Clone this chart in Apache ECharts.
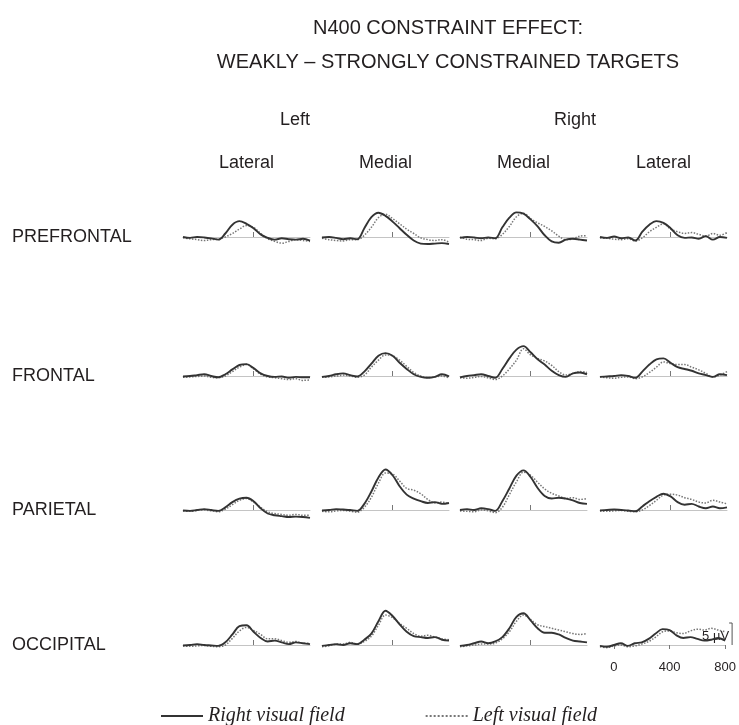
<!DOCTYPE html>
<html>
<head>
<meta charset="utf-8">
<title>N400 constraint effect</title>
<script src="https://cdn.jsdelivr.net/npm/echarts@6/dist/echarts.min.js"></script>
<style>
  html, body { margin: 0; padding: 0; background: #fff; }
  #chart { width: 739px; height: 725px; }
</style>
</head>
<body>
<div id="chart"></div>
<script>
'use strict';

// time axis (ms) shared by every panel
var times = [-100, -50, 0, 50, 100, 150, 200, 250, 300, 350, 400, 450, 500, 550, 600, 650, 700, 750, 800];

var regions = ['PREFRONTAL', 'FRONTAL', 'PARIETAL', 'OCCIPITAL'];
var sites = ['Lateral', 'Medial', 'Medial', 'Lateral'];
var hemispheres = ['Left', 'Right'];
var seriesNames = ['Right visual field', 'Left visual field'];
var timeTicks = [0, 400, 800];
var markTick = [400];
var scaleBarTime = 850;
var scaleBarUV = 5;

// difference waves in microvolts (negative plotted up), one pair per panel
// prefrontal
var preLL_right = [0.0, 0.2, 0.0, 0.1, 0.3, 0.6, -0.8, -2.8, -3.6, -3.0, -2.0, -0.6, 0.2, 0.6, 0.3, 0.5, 0.6, 0.4, 0.8];
var preLL_left  = [0.2, 0.4, 0.6, 0.8, 0.6, 0.5, 0.0, -0.8, -1.8, -2.6, -2.2, -0.8, 0.4, 1.0, 1.4, 1.0, 0.6, 0.8, 1.0];
var preLM_right = [0.1, 0.0, 0.2, 0.5, 0.3, 0.5, -2.0, -4.5, -5.5, -4.8, -3.5, -2.0, -0.5, 0.8, 1.5, 1.6, 1.5, 1.4, 1.6];
var preLM_left  = [0.3, 0.6, 0.8, 0.9, 0.6, 0.6, -0.4, -2.2, -4.4, -5.2, -4.2, -3.0, -1.8, -0.8, 0.2, 0.6, 0.8, 0.6, 1.2];
var preRM_right = [0.2, 0.0, 0.1, 0.3, 0.1, 0.3, -2.2, -4.4, -5.6, -5.3, -4.0, -2.4, -0.4, 1.0, 1.3, 0.6, 0.4, 0.6, 0.8];
var preRM_left  = [0.0, 0.5, 0.6, 0.8, 0.3, 0.4, -0.6, -2.4, -4.6, -5.4, -4.2, -3.2, -2.4, -1.4, -0.2, 0.6, 0.4, -0.2, -0.3];
var preRL_right = [0.0, 0.2, -0.1, 0.3, 0.1, 0.8, -1.2, -2.8, -3.6, -3.2, -2.0, -0.4, 0.2, 0.1, 0.4, -0.2, 0.6, 0.0, 0.2];
var preRL_left  = [0.2, 0.3, 0.5, 0.6, 0.4, 0.9, 0.2, -1.2, -2.2, -3.0, -1.8, -1.2, -0.8, -1.0, -0.6, -0.2, -0.8, -0.4, -1.0];
// frontal
var froLL_right = [0.1, 0.0, -0.2, -0.4, 0.0, 0.3, -0.4, -1.5, -2.5, -2.7, -1.8, -0.6, 0.0, 0.2, 0.1, 0.4, 0.2, 0.3, 0.3];
var froLL_left  = [0.3, 0.2, 0.1, 0.0, 0.3, 0.4, 0.0, -1.0, -2.0, -2.6, -1.6, -0.4, 0.2, 0.4, 0.6, 0.8, 0.6, 1.0, 0.9];
var froLM_right = [0.2, 0.0, -0.4, -0.6, -0.2, 0.1, -1.0, -2.8, -4.6, -5.2, -4.6, -3.0, -1.6, -0.4, 0.2, 0.4, 0.2, -0.4, 0.1];
var froLM_left  = [0.3, 0.2, 0.0, -0.2, 0.0, 0.3, -0.2, -2.0, -3.6, -4.8, -4.6, -3.6, -2.2, -0.8, 0.0, 0.4, 0.2, 0.0, 0.4];
var froRM_right = [0.3, 0.0, -0.2, -0.4, 0.0, 0.4, -1.6, -4.0, -6.0, -6.8, -5.4, -3.8, -2.6, -1.2, -0.2, 0.2, -0.6, -0.8, -0.4];
var froRM_left  = [0.4, 0.5, 0.3, 0.1, 0.4, 0.8, 0.0, -1.6, -3.6, -6.2, -4.8, -4.0, -3.4, -2.4, -1.0, -0.2, -0.6, -1.0, -0.8];
var froRL_right = [0.2, 0.1, 0.0, -0.2, 0.0, 0.4, -1.0, -2.6, -3.8, -4.0, -3.0, -2.0, -1.6, -1.2, -0.6, -0.2, 0.2, -0.4, -0.2];
var froRL_left  = [0.2, 0.4, 0.5, 0.3, 0.2, 0.6, 0.2, -0.8, -2.0, -3.2, -2.8, -2.6, -2.6, -2.0, -1.4, -0.6, 0.2, -0.2, -1.0];
// parietal
var parLL_right = [0.1, 0.2, 0.0, -0.2, 0.0, 0.2, -0.6, -1.8, -2.6, -2.8, -2.0, -0.4, 0.8, 1.2, 1.4, 1.6, 1.5, 1.6, 1.8];
var parLL_left  = [0.2, 0.3, 0.1, 0.0, 0.2, 0.4, -0.2, -1.2, -2.2, -2.6, -1.8, -0.6, 0.4, 0.8, 1.0, 1.2, 1.0, 1.2, 1.2];
var parLM_right = [0.1, 0.0, -0.2, -0.1, 0.0, 0.2, -1.4, -4.2, -7.4, -9.2, -7.9, -5.4, -3.5, -2.6, -2.0, -1.6, -1.8, -1.4, -1.6];
var parLM_left  = [0.3, 0.4, 0.2, 0.1, 0.3, 0.5, -0.6, -2.9, -6.1, -8.4, -8.2, -6.6, -4.9, -4.5, -3.7, -2.4, -1.6, -1.8, -1.4];
var parRM_right = [0.0, -0.2, 0.0, -0.4, -0.2, 0.2, -2.0, -4.9, -7.8, -9.0, -7.5, -5.0, -3.2, -2.6, -2.8, -2.6, -2.2, -1.6, -1.4];
var parRM_left  = [0.2, 0.3, 0.4, 0.0, 0.2, 0.6, -0.6, -3.5, -6.4, -8.6, -7.9, -6.3, -4.8, -3.8, -3.2, -2.6, -2.8, -2.4, -2.6];
var parRL_right = [0.1, 0.0, -0.1, 0.0, 0.1, 0.3, -0.8, -2.0, -3.0, -3.7, -3.1, -1.8, -1.2, -1.4, -0.8, -0.4, -0.8, -0.4, -0.6];
var parRL_left  = [0.2, 0.3, 0.2, 0.1, 0.3, 0.4, 0.0, -1.0, -2.2, -3.4, -3.6, -3.4, -2.8, -2.4, -1.8, -1.6, -2.2, -1.8, -1.4];
// occipital
var occLL_right = [0.1, 0.0, -0.2, 0.0, 0.1, 0.2, -0.6, -2.4, -4.3, -4.5, -3.0, -1.6, -0.8, -1.0, -0.6, -0.2, -0.6, -0.4, -0.2];
var occLL_left  = [0.2, 0.3, 0.2, 0.1, 0.3, 0.4, 0.0, -1.5, -3.2, -4.0, -3.3, -2.4, -1.4, -1.4, -1.0, -0.6, -0.8, -0.4, -0.4];
var occLM_right = [0.2, 0.0, -0.2, 0.0, -0.4, -0.2, -1.2, -2.6, -5.4, -7.8, -6.6, -4.7, -3.0, -2.0, -1.8, -1.6, -1.8, -1.2, -1.0];
var occLM_left  = [0.4, 0.2, -0.2, -0.2, -0.6, -0.2, -0.8, -2.0, -4.5, -6.8, -6.2, -4.9, -3.8, -2.6, -2.0, -2.2, -1.8, -1.4, -1.2];
var occRM_right = [0.2, 0.0, -0.4, -0.8, -0.4, -0.8, -1.8, -3.8, -6.4, -7.2, -5.6, -3.8, -2.8, -2.8, -2.4, -1.6, -1.0, -0.8, -0.6];
var occRM_left  = [0.4, 0.2, 0.0, -0.2, -0.2, -0.4, -1.4, -3.0, -5.4, -6.8, -5.8, -4.6, -4.2, -3.8, -3.4, -3.0, -2.6, -2.4, -2.6];
var occRL_right = [0.2, 0.4, 0.0, -0.4, 0.2, -0.4, -0.6, -1.4, -2.6, -3.6, -3.4, -2.2, -1.6, -1.8, -1.4, -1.0, -1.2, -1.6, -1.0];
var occRL_left  = [0.4, 0.6, 0.2, 0.0, 0.4, 0.2, -0.2, -0.8, -1.8, -3.0, -3.2, -2.8, -2.6, -3.2, -3.6, -3.4, -3.8, -3.4, -3.0];

// panels in reading order: [right visual field, left visual field]
var panels = [
    [preLL_right, preLL_left], [preLM_right, preLM_left], [preRM_right, preRM_left], [preRL_right, preRL_left],
    [froLL_right, froLL_left], [froLM_right, froLM_left], [froRM_right, froRM_left], [froRL_right, froRL_left],
    [parLL_right, parLL_left], [parLM_right, parLM_left], [parRM_right, parRM_left], [parRL_right, parRL_left],
    [occLL_right, occLL_left], [occLM_right, occLM_left], [occRM_right, occRM_left], [occRL_right, occRL_left]
];

// layout
var colLeft = [183, 322, 460, 600];
var panelWidth = 127;
var rowBase = [237, 376, 510, 645];
var pxPerUV = 4.4;
var yTop = -12, yBottom = 3;

var font = 'Liberation Sans, Arial, sans-serif';
var ink = '#231f20';

function pairs(values) {
    return values.map(function (v, i) { return [times[i], v]; });
}

function text(str, x, y, size, align) {
    return {
        type: 'text', x: x, y: y, silent: true,
        style: { text: str, fontSize: size, fontFamily: font, fill: ink, align: align || 'center', verticalAlign: 'middle' }
    };
}

var graphics = [
    text('N400 CONSTRAINT EFFECT:', 448, 28, 20),
    text('WEAKLY \u2013 STRONGLY CONSTRAINED TARGETS', 448, 62, 20),
    text(hemispheres[0], 295, 120, 18),
    text(hemispheres[1], 575, 120, 18)
];
sites.forEach(function (s, c) {
    graphics.push(text(s, colLeft[c] + panelWidth / 2, 163, 18));
});
regions.forEach(function (r, i) {
    graphics.push(text(r, 12, rowBase[i], 18, 'left'));
});

var grids = [], xAxes = [], yAxes = [], series = [];

panels.forEach(function (panel, idx) {
    var r = Math.floor(idx / 4), c = idx % 4;
    var last = idx === panels.length - 1;

    grids.push({
        left: colLeft[c],
        width: panelWidth,
        top: rowBase[r] + yTop * pxPerUV,
        height: (yBottom - yTop) * pxPerUV
    });

    xAxes.push({
        type: 'value', gridIndex: idx, min: -100, max: 800,
        axisLine: { show: true, onZero: true, lineStyle: { color: '#c4c4c4', width: 1 } },
        splitLine: { show: false },
        axisTick: {
            show: true,
            customValues: last ? timeTicks : markTick,
            inside: !last,
            length: last ? 4 : 5,
            lineStyle: { color: '#777', width: 1 }
        },
        axisLabel: {
            show: last, customValues: timeTicks, margin: 3,
            fontSize: 13, fontFamily: font, color: ink
        }
    });

    yAxes.push({ type: 'value', gridIndex: idx, inverse: true, min: yTop, max: yBottom, show: false });

    series.push({
        name: seriesNames[0], type: 'line', xAxisIndex: idx, yAxisIndex: idx,
        data: pairs(panel[0]), smooth: 0.35, symbol: 'none', z: 3,
        lineStyle: { color: '#333', width: 1.9, type: 'solid' },
        itemStyle: { color: '#333' }
    });
    series.push({
        name: seriesNames[1], type: 'line', xAxisIndex: idx, yAxisIndex: idx,
        data: pairs(panel[1]), smooth: 0.35, symbol: 'none', z: 2,
        lineStyle: { color: '#777', width: 1.5, type: 'dotted' },
        itemStyle: { color: '#777' }
    });
});

var chart = echarts.init(document.getElementById('chart'), null, { renderer: 'canvas' });

chart.setOption({
    animation: false,
    backgroundColor: '#fff',
    graphic: graphics,
    legend: {
        data: seriesNames,
        left: 155, top: 701,
        itemWidth: 42, itemHeight: 10, itemGap: 80,
        itemStyle: { opacity: 0 },
        textStyle: { fontFamily: 'Liberation Serif, serif', fontStyle: 'italic', fontSize: 20, color: ink }
    },
    grid: grids,
    xAxis: xAxes,
    yAxis: yAxes,
    series: series
});

// 5 uV scale bar beside the last panel, placed through that panel's scales
var lastGrid = panels.length - 1;
var barBottom = chart.convertToPixel({ gridIndex: lastGrid }, [scaleBarTime, 0]);
var barTop = chart.convertToPixel({ gridIndex: lastGrid }, [scaleBarTime, -scaleBarUV]);
graphics.push({
    type: 'line', silent: true,
    shape: { x1: barBottom[0], y1: barBottom[1], x2: barTop[0], y2: barTop[1] },
    style: { stroke: '#555', lineWidth: 1 }
});
graphics.push({
    type: 'line', silent: true,
    shape: { x1: barTop[0] - 3, y1: barTop[1], x2: barTop[0], y2: barTop[1] },
    style: { stroke: '#555', lineWidth: 1 }
});
graphics.push(text(scaleBarUV + ' \u00b5V', barTop[0] - 3, (barTop[1] + barBottom[1]) / 2 + 2, 13, 'right'));
chart.setOption({ graphic: graphics });
</script>
</body>
</html>
